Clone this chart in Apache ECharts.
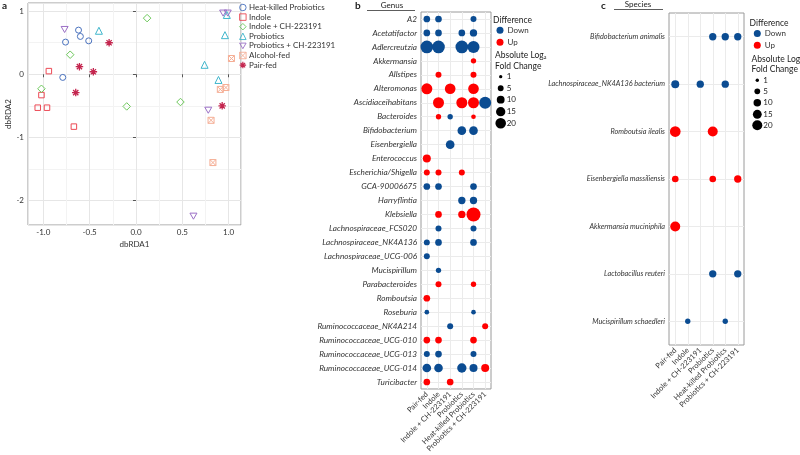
<!DOCTYPE html>
<html><head><meta charset="utf-8">
<script src="https://cdn.jsdelivr.net/npm/echarts@6/dist/echarts.min.js"></script>
<style>html,body{margin:0;padding:0;background:#fff}#c{width:800px;height:455px}</style>
</head><body><div id="c"></div><script>
// ---------- Panel a : dbRDA ordination ----------
const heatKilled   = [[-0.62,0.70],[-0.60,0.60],[-0.76,0.51],[-0.51,0.53],[-0.79,-0.05]];
const indole       = [[-0.94,0.05],[-1.02,-0.33],[-1.06,-0.53],[-0.96,-0.53],[-0.67,-0.83]];
const indoleCH     = [[-0.71,0.31],[-1.02,-0.23],[-0.10,-0.51],[0.12,0.89],[0.48,-0.44]];
const probiotics   = [[-0.40,0.69],[0.96,0.62],[0.74,0.15],[0.89,-0.09],[0.98,0.94]];
const probioticsCH = [[-0.77,0.71],[0.94,0.97],[0.99,0.97],[0.78,-0.57],[0.62,-2.25]];
const alcoholFed   = [[1.03,0.25],[0.91,-0.24],[0.97,-0.21],[0.81,-0.73],[0.83,-1.40]];
const pairFed      = [[-0.29,0.50],[-0.61,0.12],[-0.46,0.04],[-0.65,-0.29],[0.93,-0.50]];
const legendNamesA = ['Heat-killed Probiotics','Indole','Indole + CH-223191','Probiotics','Probiotics + CH-223191','Alcohol-fed','Pair-fed'];

// ---------- Panels b / c : groups ----------
const groups = ['Pair-fed','Indole','Indole + CH-223191','Probiotics','Heat-killed Probiotics','Probiotics + CH-223191'];

// ---------- Panel b : genus (signed log2 fold change; + = Up, - = Down) ----------
const genera = ['A2','Acetatifactor','Adlercreutzia','Akkermansia','Allstipes','Alteromonas','Ascidiaceihabitans','Bacteroides','Bifidobacterium','Eisenbergiella','Enterococcus','Escherichia/Shigella','GCA-90006675','Harryflintia','Klebsiella','Lachnospiraceae_FCS020','Lachnospiraceae_NK4A136','Lachnospiraceae_UCG-006','Mucispirillum','Parabacteroides','Romboutsia','Roseburia','Ruminococcaceae_NK4A214','Ruminococcaceae_UCG-010','Ruminococcaceae_UCG-013','Ruminococcaceae_UCG-014','Turicibacter'];
const genusPairFed      = [-6.8,-6.8,-29.8,null,null,21.8,null,null,null,null,10.5,5.2,-6.8,null,null,null,-5.2,-5.2,null,null,6.8,-2.7,null,6.8,-5.2,-12.6,6.8];
const genusIndole       = [-6.8,-6.8,-29.8,null,5.2,null,21.8,3.9,null,null,null,5.2,-6.8,null,6.8,-5.2,-6.8,null,-3.9,5.2,null,null,null,6.8,-6.8,-12.6,null];
const genusIndoleCH     = [null,null,null,null,null,20.3,null,-3.9,null,-12.6,null,null,null,null,null,null,null,null,null,null,null,null,-5.2,null,null,null,6.8];
const genusProbiotics   = [null,-6.8,-29.8,null,null,null,21.8,null,-12.6,null,null,5.2,null,-8.5,8.5,null,null,null,null,null,null,null,null,null,null,-15.0,null];
const genusHeatKilled   = [-5.2,-8.5,-26.4,3.9,5.2,20.3,21.8,2.7,-12.6,null,null,null,-6.8,-8.5,37.2,-5.2,-6.8,null,null,3.9,null,-2.7,null,6.8,-5.2,-10.5,null];
const genusProbioticsCH = [null,null,null,null,null,null,-26.4,null,null,null,null,null,null,null,null,null,null,null,null,null,null,null,5.2,null,null,10.5,null];

// ---------- Panel c : species ----------
const species = ['Bifidobacterium animalis','Lachnospiraceae_NK4A136 bacterium','Romboutsia ilealis','Eisenbergiella massiliensis','Akkermansia muciniphila','Lactobacillus reuteri','Mucispirillum schaedleri'];
const speciesPairFed      = [null,-11.7,23.3,7.4,20.0,null,null];
const speciesIndole       = [null,null,null,null,null,null,-4.1];
const speciesIndoleCH     = [null,-9.4,null,null,null,null,null];
const speciesProbiotics   = [-9.4,null,20.0,7.4,null,-9.4,null];
const speciesHeatKilled   = [-9.4,-9.4,null,null,null,null,-4.1];
const speciesProbioticsCH = [-9.4,null,null,9.4,null,-9.4,null];

const sizeBreaks = [1,5,10,15,20];

// ---------- helpers ----------
const FONT = 'Lato, "Open Sans", sans-serif';
const DOWN = '#0B4C92', UP = '#FF0000';
const sizeB = v => 1.2 + 2.1 * Math.sqrt(v);
const sizeC = v => 1.5 + 1.9 * Math.sqrt(v);
function buildData(cols, sign) {
  const out = [];
  cols.forEach((arr, ci) => arr.forEach((v, ri) => {
    if (v !== null && Math.sign(v) === sign) out.push([ci, ri, Math.abs(v)]);
  }));
  return out;
}
const genusCols = [genusPairFed, genusIndole, genusIndoleCH, genusProbiotics, genusHeatKilled, genusProbioticsCH];
const speciesCols = [speciesPairFed, speciesIndole, speciesIndoleCH, speciesProbiotics, speciesHeatKilled, speciesProbioticsCH];

const styleA = [
  {data: heatKilled,   color:'#4A72BE', symbol:'circle', size:6},
  {data: indole,       color:'#EC4A55', symbol:'rect', size:5.5},
  {data: indoleCH,     color:'#6CC85A', symbol:'diamond', size:7.5},
  {data: probiotics,   color:'#3FB6CC', symbol:'triangle', size:7},
  {data: probioticsCH, color:'#9B6FC6', symbol:'path://M0,0L10,0L5,8.66Z', size:7},
  {data: alcoholFed,   color:'#F5AE95', symbol:'path://M0,0H10V10H0Z M0,0L10,10 M10,0L0,10', size:6},
  {data: pairFed,      color:'#C4264F', symbol:'path://M5,0L5,10 M0,5L10,5 M1.5,1.5L8.5,8.5 M8.5,1.5L1.5,8.5', size:7.5}
];
const seriesA = styleA.map((s, i) => ({
  type:'scatter', name: legendNamesA[i], xAxisIndex:0, yAxisIndex:0,
  data: s.data, symbol: s.symbol, symbolSize: s.size, symbolKeepAspect: true,
  itemStyle:{color:'rgba(255,255,255,0)', borderColor: s.color, borderWidth: i === 6 ? 1.3 : 1, opacity:1},
  emphasis:{disabled:true}
}));
const legendDataA = styleA.map((s, i) => ({
  name: legendNamesA[i], icon: s.symbol,
  itemStyle:{color:'rgba(255,255,255,0)', borderColor: s.color, borderWidth: i === 6 ? 1.2 : 0.9}
}));

function catX(gridIndex) {
  return {type:'category', gridIndex, data: groups,
    axisLine:{show:false}, axisTick:{alignWithLabel:true, length:3, lineStyle:{color:'#555'}},
    axisLabel:{rotate:45, margin:4, fontSize:7.5, color:'#333', interval:0},
    splitLine:{show:true, alignWithLabel:true, lineStyle:{color:'#ebebeb', width:1}}};
}
function catY(gridIndex, data, fs) {
  return {type:'category', gridIndex, data, inverse:true,
    axisLine:{show:false}, axisTick:{alignWithLabel:true, length:3, lineStyle:{color:'#555'}},
    axisLabel:{fontStyle:'italic', margin:4, fontSize:fs, color:'#333', interval:0},
    splitLine:{show:true, alignWithLabel:true, lineStyle:{color:'#ebebeb', width:1}}};
}

const graphics = [];
function txt(x, y, text, opt) {
  graphics.push({type:'text', x, y, style:Object.assign({text, fill:'#222', font:'8px ' + FONT, textVerticalAlign:'middle'}, opt || {})});
}
txt(2, 6, 'a', {font:'bold 10px ' + FONT});
txt(355, 6, 'b', {font:'bold 10px ' + FONT});
txt(601, 6, 'c', {font:'bold 10px ' + FONT});
txt(392, 5, 'Genus', {textAlign:'center'});
txt(638, 4, 'Species', {textAlign:'center'});
graphics.push({type:'line', shape:{x1:367, y1:10.5, x2:415, y2:10.5}, style:{stroke:'#333', lineWidth:0.8}});
graphics.push({type:'line', shape:{x1:614, y1:9.5, x2:663, y2:9.5}, style:{stroke:'#333', lineWidth:0.8}});

function sizeLegend(x0, yTitle, cx, ys, sizeFn) {
  txt(x0 - 2, yTitle, 'Difference', {font:'8.5px ' + FONT});
  txt(x0, ys.t1, 'Absolute Log\u2082', {font:'8.5px ' + FONT});
  txt(x0, ys.t2, 'Fold Change', {font:'8.5px ' + FONT});
  sizeBreaks.forEach((v, i) => {
    graphics.push({type:'circle', shape:{cx, cy: ys.c[i], r: sizeFn(v)/2}, style:{fill:'#000'}});
    txt(cx + 6, ys.c[i], String(v));
  });
}
sizeLegend(495, 20, 500.7, {t1:55, t2:66, c:[76.7,88.3,99.7,111.7,123.3]}, sizeB);
sizeLegend(751.5, 23.7, 757.3, {t1:59, t2:69.7, c:[80.3,91.3,102.7,114.3,125.3]}, sizeC);

const bubble = (name, xi, cols, sign, fn) => ({
  type:'scatter', name, xAxisIndex:xi, yAxisIndex:xi, data: buildData(cols, sign),
  symbolSize: d => fn(d[2]), itemStyle:{color: sign < 0 ? DOWN : UP, opacity:1}, emphasis:{disabled:true}
});

const option = {
  animation:false,
  backgroundColor:'#fff',
  textStyle:{fontFamily: FONT},
  grid:[
    {left:28, top:3, width:213, height:222, show:true, borderColor:'#9a9a9a', borderWidth:1},
    {left:421, top:12, width:70, height:386, show:true, borderColor:'#9a9a9a', borderWidth:1},
    {left:669, top:13, width:75, height:332, show:true, borderColor:'#9a9a9a', borderWidth:1}
  ],
  xAxis:[
    {type:'value', gridIndex:0, min:-1.165, max:1.133, splitNumber:5,
     name:'dbRDA1', nameLocation:'middle', nameGap:15, nameTextStyle:{fontSize:8, color:'#333'},
     axisLine:{show:false}, axisTick:{show:true, length:3, lineStyle:{color:'#555'}},
     axisLabel:{fontSize:8, color:'#333', margin:3, showMinLabel:false, showMaxLabel:false, formatter:v => v.toFixed(1)},
     splitLine:{lineStyle:{color:'#e6e6e6'}},
     minorTick:{show:false, splitNumber:2}, minorSplitLine:{show:true, lineStyle:{color:'#f3f3f3', width:1}}},
    catX(1), catX(2)
  ],
  yAxis:[
    {type:'value', gridIndex:0, min:-2.39, max:1.13, splitNumber:4,
     name:'dbRDA2', nameLocation:'middle', nameGap:16, nameRotate:90, nameTextStyle:{fontSize:8, color:'#333'},
     axisLine:{show:false}, axisTick:{show:true, length:3, lineStyle:{color:'#555'}},
     axisLabel:{fontSize:8, color:'#333', margin:4, showMinLabel:false, showMaxLabel:false},
     splitLine:{lineStyle:{color:'#e6e6e6'}},
     minorTick:{show:false, splitNumber:2}, minorSplitLine:{show:true, lineStyle:{color:'#f3f3f3', width:1}}},
    catY(1, genera, 8.2), catY(2, species, 7.3)
  ],
  legend:[
    {left:239, top:3.5, orient:'vertical', itemWidth:6.5, itemHeight:6.5, itemGap:1.6, padding:0,
     textStyle:{fontSize:8, color:'#333', lineHeight:7, padding:[0,0,0,-2]}, data: legendDataA, selectedMode:false},
    {left:496.5, top:26.2, orient:'vertical', itemWidth:7, itemHeight:7, itemGap:4, padding:0, icon:'circle',
     textStyle:{fontSize:8, color:'#333', lineHeight:7, padding:[0,0,0,-1]}, data:['Down','Up'], selectedMode:false},
    {left:753.8, top:29.5, orient:'vertical', itemWidth:7, itemHeight:7, itemGap:3.7, padding:0, icon:'circle',
     textStyle:{fontSize:8, color:'#333', lineHeight:7, padding:[0,0,0,-1]}, data:['Down','Up'], selectedMode:false}
  ],
  series: seriesA.concat([
    bubble('Down', 1, genusCols, -1, sizeB),
    bubble('Up',   1, genusCols,  1, sizeB),
    bubble('Down', 2, speciesCols, -1, sizeC),
    bubble('Up',   2, speciesCols,  1, sizeC)
  ]),
  graphic: graphics
};
const chart = echarts.init(document.getElementById('c'));
chart.setOption(option);
</script></body></html>
